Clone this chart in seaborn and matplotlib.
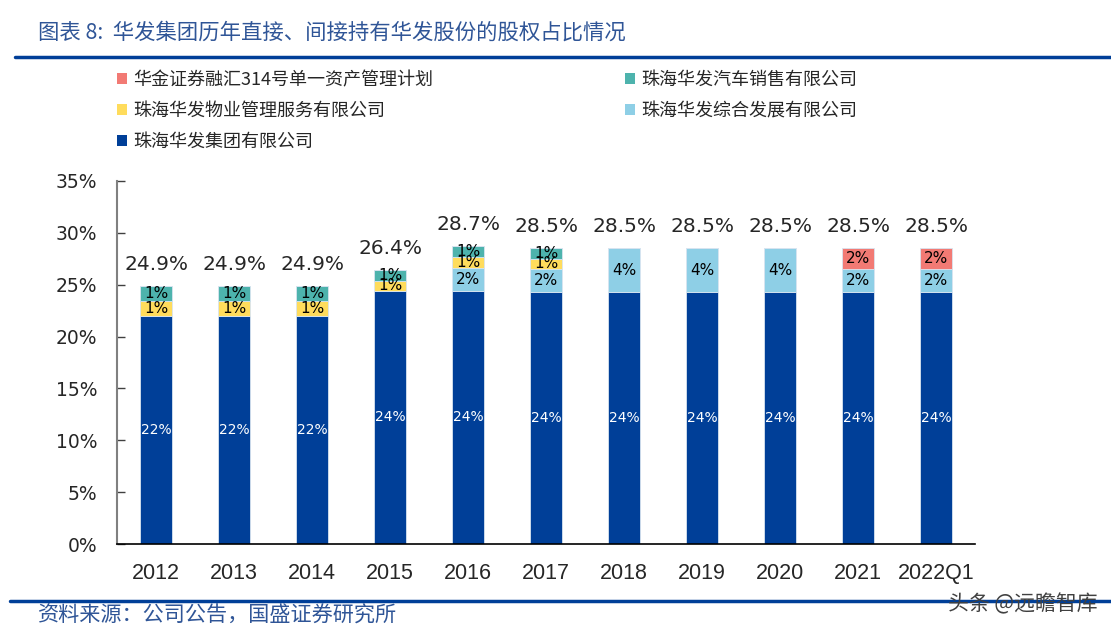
import numpy as np
import pandas as pd
import seaborn as sns
import matplotlib.pyplot as plt
from matplotlib.patches import Patch
from matplotlib.lines import Line2D

# ── data (percent of shares held) ─────────────────────────────
years = ['2012', '2013', '2014', '2015', '2016', '2017',
         '2018', '2019', '2020', '2021', '2022Q1']
group_direct = [21.95, 21.95, 21.95, 24.4, 24.4, 24.3, 24.3, 24.3, 24.3, 24.3, 24.3]
zonghe_dev = [0, 0, 0, 0, 2.2, 2.2, 4.2, 4.2, 4.2, 2.2, 2.2]
property_mgmt = [1.45, 1.45, 1.45, 1.0, 1.05, 1.0, 0, 0, 0, 0, 0]
auto_sales = [1.45, 1.45, 1.45, 1.0, 1.05, 1.0, 0, 0, 0, 0, 0]
hj_plan = [0, 0, 0, 0, 0, 0, 0, 0, 0, 2.0, 2.0]
totals = [24.9, 24.9, 24.9, 26.4, 28.7, 28.5, 28.5, 28.5, 28.5, 28.5, 28.5]

series_names = ['珠海华发集团有限公司', '珠海华发综合发展有限公司', '珠海华发物业管理服务有限公司',
                '珠海华发汽车销售有限公司', '华金证券融汇314号单一资产管理计划']
series_vals = [group_direct, zonghe_dev, property_mgmt, auto_sales, hj_plan]
colors = ['#003F98', '#8ECFE6', '#FFDC5C', '#4DB3AD', '#F27A74']
label_colors = ['white', 'black', 'black', 'black', 'black']
label_sizes = [10, 11, 11, 11, 11]

CJK = ['Noto Sans CJK SC', 'DejaVu Sans']
sns.set_style('white')
plt.rcParams['font.family'] = ['DejaVu Sans']

fig = plt.figure(figsize=(11.11, 6.36), dpi=100)
ax = fig.add_axes([117 / 1111, 1 - 544 / 636, (975 - 117) / 1111, (544 - 181) / 636])

df = pd.DataFrame({'year': years})
bottom = np.zeros(len(years))
for name, vals, col, lc, ls in zip(series_names, series_vals, colors, label_colors, label_sizes):
    df['v'] = vals
    sns.barplot(data=df, x='year', y='v', order=years, color=col, width=0.4,
                bottom=bottom.copy(), edgecolor='#D8E4F0', linewidth=0.6,
                saturation=1, ax=ax)
    cont = ax.containers[-1]
    labels = [f'{v:.0f}%' if v > 0 else '' for v in vals]
    ax.bar_label(cont, labels=labels, label_type='center', color=lc, fontsize=ls)
    bottom += np.array(vals)

for i, t in enumerate(totals):
    ax.annotate(f'{t:.1f}%', (i, bottom[i]), xytext=(0, 9), textcoords='offset points',
                ha='center', va='bottom', fontsize=14.5)

ax.set_ylim(0, 35)
ax.set_xlim(-0.5, len(years) - 0.5)
ax.set_yticks(np.arange(0, 36, 5))
ax.set_yticklabels([f'{v}%' for v in range(0, 36, 5)], fontsize=13.5)
ax.set_xlabel('')
ax.set_ylabel('')
ax.set_xticks(np.arange(-0.5, len(years), 1.0), minor=True)
ax.tick_params(axis='x', which='major', length=0, pad=14)
ax.tick_params(axis='x', which='minor', direction='in', length=5, width=1, color='black')
ax.tick_params(axis='y', direction='in', length=6, width=1, color='#404040', pad=14, left=True)
for lbl in ax.get_xticklabels():
    lbl.set_fontsize(15.5)
    lbl.set_family(['Liberation Sans', 'DejaVu Sans'])
for s in ['top', 'right']:
    ax.spines[s].set_visible(False)
ax.spines['left'].set_color('#808080')
ax.spines['left'].set_linewidth(1.5)
ax.spines['bottom'].set_color('black')
ax.spines['bottom'].set_linewidth(1.2)

# ── legend ────────────────────────────────────────────────────
order = [4, 2, 0, 3, 1]
handles = [Patch(facecolor=colors[k], edgecolor='none') for k in order]
names = [series_names[k] for k in order]
fig.legend(handles, names, loc='upper left', bbox_to_anchor=(110 / 1111, 1 - 64 / 636),
           ncol=2, frameon=False, prop={'family': CJK, 'size': 13},
           handlelength=0.55, handleheight=0.55, handletextpad=0.35,
           columnspacing=10.6, labelspacing=0.72, borderaxespad=0)

# ── header / footer ───────────────────────────────────────────
fig.text(38 / 1111, 1 - 33 / 636, '图表 8:  华发集团历年直接、间接持有华发股份的股权占比情况',
         family=CJK, fontsize=15.4, color='#2F5597', va='center', style='italic')
fig.add_artist(Line2D([15 / 1111, 1], [1 - 57 / 636] * 2, color='#003F98', lw=2.5))
fig.add_artist(Line2D([10 / 1111, 1], [1 - 601 / 636] * 2, color='#003F98', lw=2.5))
fig.text(38 / 1111, 1 - 616 / 636, '资料来源：公司公告，国盛证券研究所',
         family=CJK, fontsize=15.2, color='#2F5597', va='center', style='italic')
fig.text(1098 / 1111, 1 - 604 / 636, '头条 @远瞻智库', family=CJK, fontsize=15,
         color='#404040', ha='right', va='center')

fig.savefig('out.png', dpi=100)
